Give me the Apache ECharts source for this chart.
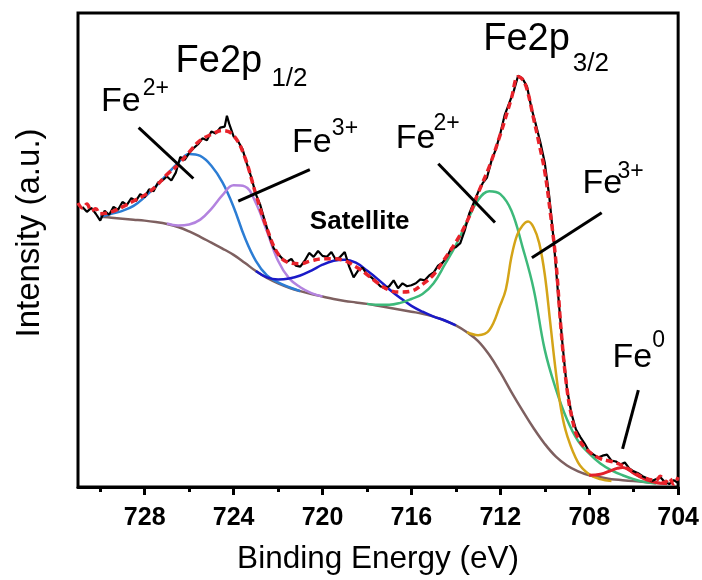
<!DOCTYPE html>
<html>
<head>
<meta charset="utf-8">
<script src="https://cdn.jsdelivr.net/npm/echarts@6/dist/echarts.min.js"></script>
<style>
  html, body { margin: 0; padding: 0; background: #fff; }
  #main { width: 702px; height: 580px; }
</style>
</head>
<body>
<div id="main"></div>
<script>
// Fe 2p XPS spectrum: binding energy (eV) vs intensity (kcounts, arbitrary units)

// Measured spectrum
const measured = [
  [730.8,28.6],[730.6,28.1],[730.4,28.5],[730.2,27.9],[730.0,27.2],[729.8,28.2],[729.6,27.8],[729.4,28.6],
  [729.2,28.3],[729.0,29.1],[728.8,28.8],[728.6,29.5],[728.4,29.2],[728.2,29.9],[728.0,29.6],[727.8,30.4],
  [727.6,30.2],[727.4,31.1],[727.2,31.3],[727.0,31.7],[726.8,31.3],[726.6,32.1],[726.4,33.7],[726.2,33.4],
  [726.0,34.1],[725.8,34.6],[725.6,35.0],[725.4,35.6],[725.2,35.4],[725.0,36.3],[724.8,36.1],[724.6,36.7],
  [724.4,36.8],[724.3,37.9],[724.2,37.1],[724.0,35.8],[723.8,35.3],[723.6,34.5],[723.4,33.0],[723.2,31.6],
  [723.0,29.9],[722.8,28.8],[722.6,27.2],[722.4,25.7],[722.2,24.4],[722.0,23.8],[721.8,23.3],[721.6,23.0],
  [721.4,23.3],[721.2,22.6],[721.0,22.5],[720.8,23.1],[720.6,23.9],[720.4,23.5],[720.2,24.1],[720.0,23.6],
  [719.8,23.5],[719.6,24.0],[719.4,23.2],[719.2,23.5],[719.0,24.0],[718.8,22.5],[718.6,21.4],[718.4,22.1],
  [718.2,22.4],[718.0,21.7],[717.8,21.4],[717.6,21.0],[717.4,20.5],[717.2,20.3],[717.0,20.5],[716.8,21.1],
  [716.6,20.3],[716.4,20.8],[716.2,20.5],[716.0,20.6],[715.8,20.8],[715.6,21.2],[715.4,21.1],[715.2,21.6],
  [715.0,21.9],[714.8,22.6],[714.6,22.9],[714.4,23.5],[714.2,24.4],[714.0,24.5],[713.8,24.9],[713.6,26.2],
  [713.4,27.9],[713.2,29.0],[713.0,30.1],[712.8,31.0],[712.6,31.6],[712.4,33.3],[712.2,34.5],[712.0,36.1],
  [711.8,38.0],[711.6,39.2],[711.4,40.4],[711.2,42.0],[711.0,41.7],[710.8,40.9],[710.6,38.7],[710.4,37.0],
  [710.2,35.2],[710.0,33.1],[709.8,29.7],[709.6,25.2],[709.4,19.7],[709.2,14.5],[709.0,10.0],[708.8,7.5],
  [708.6,5.9],[708.4,5.1],[708.2,4.4],[708.0,3.6],[707.8,3.3],[707.6,3.0],[707.4,3.2],[707.2,3.3],
  [707.0,2.7],[706.8,2.6],[706.6,2.3],[706.4,2.5],[706.2,1.9],[706.0,1.6],[705.8,1.4],[705.6,1.1],
  [705.4,0.9],[705.2,0.6],[705.0,0.8],[704.8,1.0],[704.6,0.5],[704.4,0.3],[704.2,0.7],[704.0,0.4]
];

// Fitted envelope (sum of components)
const envelope = [
  [731.0,29.0],[730.8,28.5],[730.6,28.9],[730.4,28.2],[730.2,28.4],[730.0,27.9],[729.5,28.1],[729.0,28.6],
  [728.5,29.2],[728.0,29.8],[727.5,30.7],[727.0,31.9],[726.5,32.9],[726.0,34.2],[725.5,35.4],[725.0,36.0],
  [724.5,36.4],[724.0,35.9],[723.5,33.7],[723.0,29.9],[722.5,26.4],[722.0,23.8],[721.5,22.9],[721.0,22.8],
  [720.5,23.1],[720.0,23.3],[719.5,23.3],[719.0,23.1],[718.5,22.5],[718.0,21.7],[717.5,20.8],[717.0,20.1],
  [716.5,19.9],[716.0,20.0],[715.5,20.7],[715.0,21.7],[714.5,23.3],[714.0,25.0],[713.5,27.1],[713.0,30.0],
  [712.5,32.7],[712.0,36.0],[711.5,39.7],[711.2,41.9],[711.0,41.6],[710.8,40.6],[710.5,37.6],[710.25,35.0],
  [710.0,32.2],[709.75,28.0],[709.5,23.0],[709.25,15.6],[709.0,10.0],[708.75,6.8],[708.5,5.0],[708.0,3.6],
  [707.5,2.9],[707.0,2.6],[706.5,2.2],[706.0,1.5],[705.5,0.9],[705.0,0.7],[704.8,1.1],[704.6,0.4],
  [704.4,0.9],[704.2,0.3],[704.0,1.0]
];

// Shirley background
const background = [
  [730.0,27.6],[729.5,27.5],[729.0,27.4],[728.5,27.3],[728.0,27.2],[727.5,27.05],[727.0,26.85],[726.5,26.55],
  [726.0,26.1],[725.5,25.55],[725.0,24.95],[724.5,24.35],[724.0,23.7],[723.5,22.9],[723.0,22.05],[722.5,21.35],
  [722.0,20.8],[721.5,20.35],[721.0,20.0],[720.5,19.7],[720.0,19.45],[719.5,19.2],[719.0,19.0],[718.5,18.85],
  [718.0,18.7],[717.5,18.5],[717.0,18.3],[716.5,18.1],[716.0,17.9],[715.5,17.7],[715.0,17.4],[714.5,17.0],
  [714.0,16.5],[713.5,15.8],[713.0,14.9],[712.5,13.5],[712.0,11.7],[711.5,9.7],[711.0,7.8],[710.5,6.0],
  [710.0,4.4],[709.5,3.1],[709.0,2.2],[708.5,1.6],[708.0,1.2],[707.5,1.0],[707.0,0.8],[706.5,0.7],
  [706.0,0.6],[705.5,0.5],[705.0,0.4],[704.5,0.35]
];

// Fe2+ 2p1/2 component
const fe2p12Fe2 = [
  [730.0,27.6],[729.5,27.9],[729.0,28.2],[728.5,28.7],[728.0,29.6],[727.5,30.7],[727.0,31.9],[726.5,33.1],
  [726.0,34.0],[725.5,33.8],[725.0,32.8],[724.5,31.1],[724.0,28.6],[723.5,25.5],[723.0,23.1],[722.5,21.6],
  [722.0,20.9],[721.5,20.4],[721.0,20.0]
];

// Fe3+ 2p1/2 component
const fe2p12Fe3 = [
  [727.0,26.9],[726.5,26.7],[726.0,26.8],[725.5,27.3],[725.0,28.4],[724.5,29.8],[724.0,30.8],[723.5,30.7],
  [723.0,29.0],[722.5,26.1],[722.0,23.1],[721.5,21.3],[721.0,20.4],[720.5,19.8],[720.0,19.45]
];

// Satellite component
const satellite = [
  [723.0,22.05],[722.5,21.4],[722.0,21.2],[721.5,21.3],[721.0,21.6],[720.5,22.1],[720.0,22.7],[719.5,23.1],
  [719.0,23.2],[718.5,22.9],[718.0,22.1],[717.5,21.2],[717.0,20.2],[716.5,19.3],[716.0,18.5],[715.5,17.9],
  [715.0,17.4],[714.5,17.0],[714.0,16.5]
];

// Fe2+ 2p3/2 component
const fe2p32Fe2 = [
  [718.0,18.7],[717.5,18.6],[717.0,18.6],[716.5,18.8],[716.0,19.2],[715.5,19.7],[715.0,20.8],[714.5,22.7],
  [714.0,24.7],[713.5,27.1],[713.0,29.3],[712.5,30.2],[712.0,29.9],[711.5,28.2],[711.0,24.5],[710.5,20.2],
  [710.0,14.0],[709.5,10.0],[709.0,6.9],[708.5,4.7],[708.0,3.4],[707.5,2.4],[707.0,1.7],[706.5,1.2],
  [706.0,0.8],[705.5,0.5],[705.0,0.35]
];

// Fe3+ 2p3/2 component
const fe2p32Fe3 = [
  [713.5,15.8],[713.0,15.5],[712.5,16.0],[712.0,18.6],[711.75,20.2],[711.5,23.5],[711.25,25.7],[711.0,26.7],
  [710.75,27.1],[710.5,26.5],[710.25,24.9],[710.0,21.7],[709.75,16.7],[709.5,11.7],[709.25,7.7],[709.0,5.3],
  [708.5,2.5],[708.0,1.3],[707.5,0.8],[707.0,0.6]
];

// Fe0 metallic component
const fe0 = [
  [708.0,1.2],[707.5,1.3],[707.0,1.7],[706.75,1.9],[706.5,2.0],[706.25,1.8],[706.0,1.4],[705.5,0.8],
  [705.0,0.45],[704.5,0.35]
];

// Axis ticks (eV)
const majorTicks = [704, 708, 712, 716, 720, 724, 728];
const minorTicks = [706, 710, 714, 718, 722, 726, 730];

// Peak annotations: text anchored at [eV, intensity] (left edge, vertical middle)
const annotationTexts = [
  { text: 'Fe2p', at: [726.61, 43.4], size: 38 },
  { text: '1/2', at: [722.30, 41.7], size: 26 },
  { text: 'Fe2p', at: [712.77, 45.7], size: 38 },
  { text: '3/2', at: [708.74, 43.25], size: 26 },
  { text: 'Fe', at: [729.97, 39.35], size: 34 },
  { text: '2+', at: [728.09, 40.7], size: 23 },
  { text: 'Fe', at: [721.37, 35.2], size: 34 },
  { text: '3+', at: [719.58, 36.6], size: 23 },
  { text: 'Fe', at: [716.71, 35.55], size: 34 },
  { text: '2+', at: [715.01, 37.05], size: 23 },
  { text: 'Fe', at: [708.30, 30.95], size: 34 },
  { text: '3+', at: [706.73, 32.2], size: 23 },
  { text: 'Fe', at: [706.95, 13.2], size: 34 },
  { text: '0', at: [705.16, 14.95], size: 23 },
  { text: 'Satellite', at: [720.57, 27.1], size: 26, bold: true }
];

// Pointer lines from labels to peaks: [from, to] in [eV, intensity]
const pointers = [
  [[728.27, 36.7], [725.81, 31.5]],
  [[720.57, 32.4], [723.79, 29.2]],
  [[714.79, 33.0], [712.24, 27.0]],
  [[707.44, 28.0], [710.58, 23.4]],
  [[705.79, 9.9], [706.50, 3.9]]
];

const FONT = '"Liberation Sans", Arial, Helvetica, sans-serif';

const chart = echarts.init(document.getElementById('main'), null, { renderer: 'canvas' });

function curve(name, data, color, width, z, extra) {
  return Object.assign({
    name: name,
    type: 'line',
    data: data,
    showSymbol: false,
    symbol: 'none',
    smooth: 0.4,
    z: z,
    animation: false,
    lineStyle: { color: color, width: width }
  }, extra || {});
}

chart.setOption({
  animation: false,
  backgroundColor: '#fff',
  grid: {
    left: 78, right: 21, top: 13, bottom: 83,
    show: true, borderColor: '#000', borderWidth: 3, backgroundColor: 'transparent'
  },
  xAxis: [
    {
      type: 'value', min: 704, max: 731, inverse: true,
      axisLine: { show: true, lineStyle: { color: '#000', width: 3 } },
      axisTick: { show: true, length: 8, customValues: majorTicks, lineStyle: { color: '#000', width: 3 } },
      axisLabel: {
        customValues: majorTicks, margin: 19, color: '#000',
        fontSize: 25, fontWeight: 'bold', fontFamily: FONT
      },
      splitLine: { show: false },
      name: 'Binding Energy (eV)', nameLocation: 'middle', nameGap: 56,
      nameTextStyle: { fontSize: 31.5, color: '#000', fontFamily: FONT }
    },
    {
      type: 'value', min: 704, max: 731, inverse: true, position: 'bottom',
      axisLine: { show: false },
      axisTick: { show: true, length: 5, customValues: minorTicks, lineStyle: { color: '#000', width: 3 } },
      axisLabel: { show: false },
      splitLine: { show: false }
    }
  ],
  yAxis: {
    type: 'value', min: 0, max: 48.4,
    axisLine: { show: false }, axisTick: { show: false },
    axisLabel: { show: false }, splitLine: { show: false }
  },
  series: [
    curve('Background', background, '#7e6060', 2.5, 2),
    curve('Fe2+ 2p1/2', fe2p12Fe2, '#2c7dd4', 2.5, 3),
    curve('Fe3+ 2p1/2', fe2p12Fe3, '#b383df', 2.5, 3),
    curve('Satellite', satellite, '#1a1ac8', 2.5, 3),
    curve('Fe2+ 2p3/2', fe2p32Fe2, '#3db97a', 2.5, 3),
    curve('Fe3+ 2p3/2', fe2p32Fe3, '#d4a418', 2.5, 3),
    curve('Fe0', fe0, '#e3202a', 3, 3),
    curve('Measured', measured, '#000', 2.2, 4, { smooth: false }),
    curve('Envelope', envelope, '#e8222a', 3.5, 5, {
      lineStyle: { color: '#e8222a', width: 3.5, type: [7, 4] }
    })
  ]
});

// Annotations placed in data coordinates
const graphics = [];
annotationTexts.forEach(function (a) {
  const p = chart.convertToPixel({ gridIndex: 0 }, a.at);
  graphics.push({
    type: 'text', x: p[0], y: p[1], z: 20,
    style: {
      text: a.text, fill: '#000', fontSize: a.size, fontFamily: FONT,
      fontWeight: a.bold ? 'bold' : 'normal', align: 'left', verticalAlign: 'middle'
    }
  });
});
pointers.forEach(function (seg) {
  const a = chart.convertToPixel({ gridIndex: 0 }, seg[0]);
  const b = chart.convertToPixel({ gridIndex: 0 }, seg[1]);
  graphics.push({
    type: 'line', z: 20,
    shape: { x1: a[0], y1: a[1], x2: b[0], y2: b[1] },
    style: { stroke: '#000', lineWidth: 3 }
  });
});
// Vertical axis title
graphics.push({
  type: 'text', x: 30, y: 233, rotation: Math.PI / 2, z: 20,
  style: {
    text: 'Intensity (a.u.)', fill: '#000', fontSize: 33, fontFamily: FONT,
    align: 'center', verticalAlign: 'middle'
  }
});
chart.setOption({ graphic: graphics });
</script>
</body>
</html>
